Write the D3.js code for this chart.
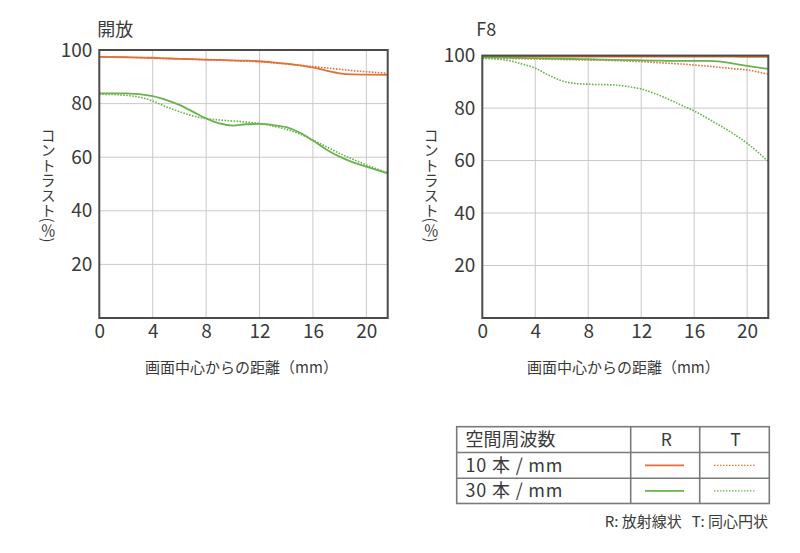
<!DOCTYPE html>
<html>
<head>
<meta charset="utf-8">
<script src="https://cdn.jsdelivr.net/npm/d3@7"></script>
<style>
  html, body { margin: 0; padding: 0; background: #fff; }
  svg { display: block; }
  text { font-family: "Noto Sans CJK JP", "Noto Sans", sans-serif; fill: #3a3a3a; white-space: pre; }
</style>
</head>
<body>
<svg id="chart" width="800" height="553"></svg>
<script>
// ---------------- data ----------------
const chartTitles = ["開放", "F8"];
const xTicks = [0, 4, 8, 12, 16, 20];
const yTicks = [20, 40, 60, 80, 100];
const xMax = 21.6;

// 開放 (wide open)
const openX   = [0, 2, 4, 5, 6, 7, 8, 9, 10, 11, 12, 13, 14, 15, 16, 17, 18, 19, 20, 21.6];
const openR10 = [97.4, 97.3, 97.1, 96.9, 96.7, 96.6, 96.4, 96.3, 96.1, 96.0, 95.8, 95.4, 94.9, 94.3, 93.5, 92.3, 91.3, 90.9, 90.8, 90.7];
const openT10 = [97.4, 97.3, 96.9, 96.8, 96.7, 96.5, 96.3, 96.2, 96.0, 95.8, 95.6, 95.2, 94.8, 94.3, 93.8, 93.3, 92.8, 92.3, 91.9, 91.3];
const openR30 = [83.8, 83.8, 82.8, 81.4, 79.5, 77.0, 74.5, 72.6, 71.8, 72.3, 72.4, 72.0, 71.2, 69.2, 66.2, 62.9, 60.2, 58.1, 56.5, 54.0];
const openT30 = [83.5, 83.1, 81.0, 78.8, 77.0, 75.4, 74.4, 73.9, 73.5, 73.1, 72.6, 71.6, 70.4, 68.7, 66.4, 63.9, 61.4, 59.2, 57.1, 54.2];

// F8
const f8X   = [0, 2, 3, 4, 5, 6, 7, 8, 10, 11, 12, 13, 14, 15, 16, 17, 18, 19, 20, 21.6];
const f8R10 = [99.6, 99.6, 99.6, 99.6, 99.6, 99.6, 99.6, 99.6, 99.6, 99.6, 99.6, 99.6, 99.6, 99.6, 99.6, 99.6, 99.6, 99.6, 99.5, 99.5];
const f8T10 = [99.0, 98.9, 98.8, 98.7, 98.6, 98.5, 98.4, 98.3, 98.1, 97.9, 97.7, 97.4, 97.1, 96.8, 96.4, 96.0, 95.5, 95.0, 94.5, 92.9];
const f8R30 = [99.3, 99.2, 99.1, 99.0, 98.9, 98.8, 98.7, 98.6, 98.4, 98.3, 98.2, 98.1, 98.0, 98.0, 98.0, 98.0, 97.7, 96.9, 96.1, 94.9];
const f8T30 = [99.0, 98.1, 96.8, 95.2, 92.6, 90.4, 89.4, 89.1, 88.8, 88.2, 87.3, 85.6, 83.5, 81.2, 78.9, 76.1, 73.2, 70.1, 66.6, 59.6];

const xAxisTitle = "画面中心からの距離（mm）";
const yAxisTitle = "コントラスト(％)";

const legendHeader = ["空間周波数", "R", "T"];
const legendRows = ["10 本 / mm", "30 本 / mm"];
const footnote = "R: 放射線状   T: 同心円状";

const ORANGE = "#e2703a";
const GREEN = "#68b34c";

// ---------------- drawing ----------------
const svg = d3.select("#chart");

const panels = [
  { title: chartTitles[0], x: openX, series: [openR10, openT10, openR30, openT30],
    left: 99.3, right: 387.7, top: 50, bottom: 318 },
  { title: chartTitles[1], x: f8X, series: [f8R10, f8T10, f8R30, f8T30],
    left: 482.3, right: 768.3, top: 55.6, bottom: 318 }
];
const seriesStyle = [
  { color: ORANGE, dash: null },
  { color: ORANGE, dash: "1.6,1.4" },
  { color: GREEN, dash: null },
  { color: GREEN, dash: "1.6,1.4" }
];
const numFont = "'Open Sans', 'Noto Sans', sans-serif";

panels.forEach((p, pi) => {
  const x = d3.scaleLinear().domain([0, xMax]).range([p.left, p.right]);
  const y = d3.scaleLinear().domain([0, 100]).range([p.bottom, p.top]);
  const g = svg.append("g");

  // grid
  g.selectAll(".vg").data(xTicks.filter(t => t > 0)).join("line")
    .attr("x1", d => x(d)).attr("x2", d => x(d))
    .attr("y1", p.top).attr("y2", p.bottom)
    .attr("stroke", "#c9c9c9").attr("stroke-width", 1);
  g.selectAll(".hg").data(yTicks.filter(t => t < 100)).join("line")
    .attr("x1", p.left).attr("x2", p.right)
    .attr("y1", d => y(d)).attr("y2", d => y(d))
    .attr("stroke", "#c9c9c9").attr("stroke-width", 1);

  // lines
  const clipId = "clip" + pi;
  svg.append("clipPath").attr("id", clipId).append("rect")
    .attr("x", p.left).attr("y", p.top - 2).attr("width", p.right - p.left).attr("height", p.bottom - p.top + 2);
  const line = d3.line().x(d => x(d[0])).y(d => y(d[1])).curve(d3.curveMonotoneX);
  const lg = g.append("g").attr("clip-path", `url(#${clipId})`);
  p.series.forEach((s, si) => {
    const pts = p.x.map((xv, i) => [xv, s[i]]);
    lg.append("path").attr("d", line(pts))
      .attr("fill", "none")
      .attr("stroke", seriesStyle[si].color)
      .attr("stroke-width", seriesStyle[si].dash ? 1.6 : 1.8)
      .attr("stroke-dasharray", seriesStyle[si].dash);
  });

  // frame
  g.append("rect").attr("x", p.left).attr("y", p.top)
    .attr("width", p.right - p.left).attr("height", p.bottom - p.top)
    .attr("fill", "none").attr("stroke", "#4d4a48").attr("stroke-width", 2);

  // axes tick labels
  const yAxis = d3.axisLeft(y).tickValues(yTicks).tickSize(0).tickPadding(7);
  const ya = g.append("g").attr("transform", `translate(${p.left},0)`).call(yAxis);
  ya.select(".domain").remove();
  ya.selectAll("text").attr("font-size", 19).attr("fill", "#3a3a3a").attr("font-family", numFont);

  const xAxis = d3.axisBottom(x).tickValues(xTicks).tickSize(0).tickPadding(6);
  const xa = g.append("g").attr("transform", `translate(0,${p.bottom})`).call(xAxis);
  xa.select(".domain").remove();
  xa.selectAll("text").attr("font-size", 19).attr("fill", "#3a3a3a").attr("font-family", numFont);

  // title
  g.append("text").attr("x", pi === 0 ? p.left - 2 : p.left - 6).attr("y", 36)
    .attr("font-size", 18).text(p.title)
    .attr("font-family", pi === 0 ? "'Noto Sans CJK JP', sans-serif" : numFont);

  // x axis title
  g.append("text").attr("x", (p.left + p.right) / 2 - 2).attr("y", 373)
    .attr("text-anchor", "middle").attr("font-size", 15).text(xAxisTitle);

  // y axis title (vertical writing)
  g.append("text").attr("x", p.left - 51).attr("y", 185)
    .attr("text-anchor", "middle").attr("font-size", 15)
    .style("writing-mode", "vertical-rl")
    .style("text-orientation", "mixed")
    .text(yAxisTitle);
});

// ---------------- legend table ----------------
const tb = { left: 456.7, right: 769.3, c1: 630.7, c2: 699.7, rows: [426.7, 452.5, 478.3, 503.5] };
const lgG = svg.append("g");
lgG.append("rect").attr("x", tb.left).attr("y", tb.rows[0])
  .attr("width", tb.right - tb.left).attr("height", tb.rows[3] - tb.rows[0])
  .attr("fill", "none").attr("stroke", "#7a7a7a").attr("stroke-width", 1.6);
[tb.rows[1], tb.rows[2]].forEach(yv => lgG.append("line")
  .attr("x1", tb.left).attr("x2", tb.right).attr("y1", yv).attr("y2", yv)
  .attr("stroke", "#7a7a7a").attr("stroke-width", 1.6));
[tb.c1, tb.c2].forEach(xv => lgG.append("line")
  .attr("x1", xv).attr("x2", xv).attr("y1", tb.rows[0]).attr("y2", tb.rows[3])
  .attr("stroke", "#7a7a7a").attr("stroke-width", 1.6));

const rowMid = i => (tb.rows[i] + tb.rows[i + 1]) / 2;
lgG.append("text").attr("x", 465.5).attr("y", rowMid(0)).attr("dy", "0.36em")
  .attr("font-size", 18).text(legendHeader[0]);
lgG.append("text").attr("x", (tb.c1 + tb.c2) / 2 + 1).attr("y", rowMid(0)).attr("dy", "0.36em")
  .attr("text-anchor", "middle").attr("font-size", 17.5).attr("font-family", numFont).text(legendHeader[1]);
lgG.append("text").attr("x", (tb.c2 + tb.right) / 2 + 1).attr("y", rowMid(0)).attr("dy", "0.36em")
  .attr("text-anchor", "middle").attr("font-size", 17.5).attr("font-family", numFont).text(legendHeader[2]);

legendRows.forEach((label, i) => {
  const ym = rowMid(i + 1);
  lgG.append("text").attr("x", 465.5).attr("y", ym).attr("dy", "0.36em")
    .attr("font-size", 18).attr("font-family", "'Open Sans', 'Noto Sans CJK JP', sans-serif")
    .attr("textLength", 97).attr("lengthAdjust", "spacing").text(label);
  const solid = seriesStyle[i * 2], dotted = seriesStyle[i * 2 + 1];
  lgG.append("line").attr("x1", 645).attr("x2", 684).attr("y1", ym).attr("y2", ym)
    .attr("stroke", solid.color).attr("stroke-width", 1.8);
  lgG.append("line").attr("x1", 714).attr("x2", 755).attr("y1", ym).attr("y2", ym)
    .attr("stroke", dotted.color).attr("stroke-width", 1.3).attr("stroke-dasharray", "1.5,1.5");
});

lgG.append("text").attr("x", 768).attr("y", 527).attr("text-anchor", "end")
  .attr("font-size", 15).text(footnote);
</script>
</body>
</html>
